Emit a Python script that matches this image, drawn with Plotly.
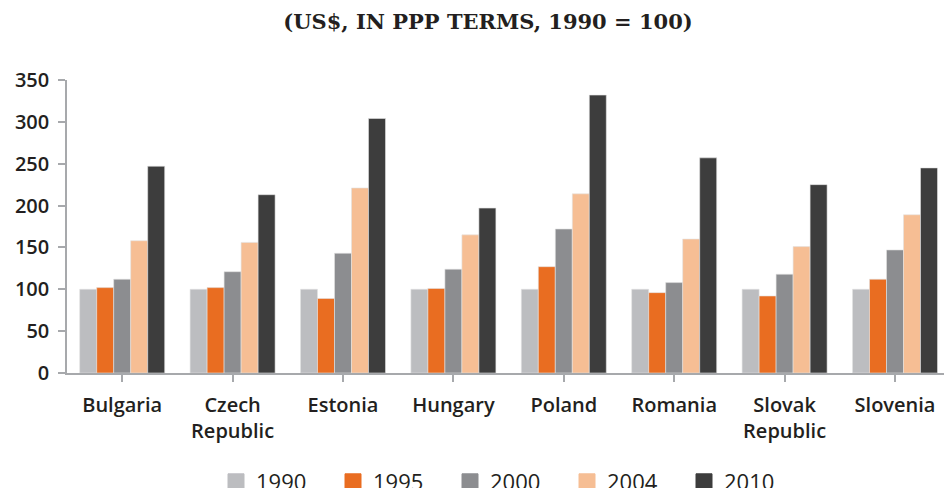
import plotly.graph_objects as go

countries = ["Bulgaria", "Czech<br>Republic", "Estonia", "Hungary", "Poland",
             "Romania", "Slovak<br>Republic", "Slovenia"]
years = ["1990", "1995", "2000", "2004", "2010"]
v1990 = [100, 100, 100, 100, 100, 100, 100, 100]
v1995 = [102, 102, 89, 101, 127, 96, 92, 112]
v2000 = [112, 121, 143, 124, 172, 108, 118, 147]
v2004 = [158, 156, 221, 165, 214, 160, 151, 189]
v2010 = [247, 213, 304, 197, 332, 257, 225, 245]
series = [v1990, v1995, v2000, v2004, v2010]
colors = ["#BCBDC0", "#E96D21", "#8C8D90", "#F6BE94", "#3D3D3D"]

FONT = "Open Sans"
TXT = "#231F20"

fig = go.Figure()
for name, vals, c in zip(years, series, colors):
    fig.add_trace(go.Bar(
        x=list(range(len(countries))), y=vals, name=name,
        legendgroup=name, showlegend=False,
        marker=dict(color=c, line=dict(color="#E2E2E2", width=0.6)),
    ))
# legend proxies (larger square swatches)
for name, c in zip(years, colors):
    fig.add_trace(go.Scatter(
        x=[None], y=[None], mode="markers", name=name, legendgroup=name,
        marker=dict(symbol="square", size=16, color=c, line=dict(color=c, width=1)),
        showlegend=True, hoverinfo="skip",
    ))

W, H = 944, 488
L, R, T, B = 67, 0, 80, 115
PW, PH = W - L - R, H - T - B
cat_w = 110.4
span = PW / cat_w

fig.update_layout(
    width=W, height=H,
    margin=dict(l=L, r=R, t=T, b=B, autoexpand=False),
    paper_bgcolor="white", plot_bgcolor="white",
    barmode="group", bargap=0.23, bargroupgap=0,
    font=dict(family=FONT, color=TXT, size=17),
    title=dict(
        text="(US$, IN PPP TERMS, 1990 = 100)",
        font=dict(family="DejaVu Serif", size=21, color=TXT, weight="bold"),
        x=488 / W, xanchor="center", xref="container",
        y=1 - 22 / H, yanchor="middle", yref="container",
    ),
    showlegend=True,
    legend=dict(
        orientation="h", x=(216 - L) / PW, xanchor="left",
        y=-(482 - 373) / PH, yanchor="middle",
        font=dict(family=FONT, size=22, color=TXT, weight=500),
        entrywidth=72, entrywidthmode="pixels",
        itemsizing="trace",
        traceorder="normal",
    ),
    xaxis=dict(
        tickmode="array", tickvals=list(range(len(countries))), ticktext=countries,
        range=[-0.5, -0.5 + span],
        showline=True, linecolor="#A7A9AC", linewidth=1.5,
        ticks="outside", tickson="boundaries", ticklen=7, tickcolor="#A7A9AC", tickwidth=1.5,
        tickfont=dict(family=FONT, size=20, color=TXT, weight=600),
        ticklabelstandoff=6,
        showgrid=False, zeroline=False, fixedrange=True, automargin=False,
    ),
    yaxis=dict(
        range=[0, 350], tickvals=[0, 50, 100, 150, 200, 250, 300, 350],
        showline=True, linecolor="#A7A9AC", linewidth=1.5,
        ticks="outside", ticklen=7, tickcolor="#A7A9AC", tickwidth=1.5,
        tickfont=dict(family=FONT, size=20, color=TXT, weight=600),
        ticklabelstandoff=5,
        showgrid=False, zeroline=False, fixedrange=True, automargin=False,
    ),
)

fig.write_html("out.html", config={"displayModeBar": False},
               post_script="document.body.style.margin='0';")
